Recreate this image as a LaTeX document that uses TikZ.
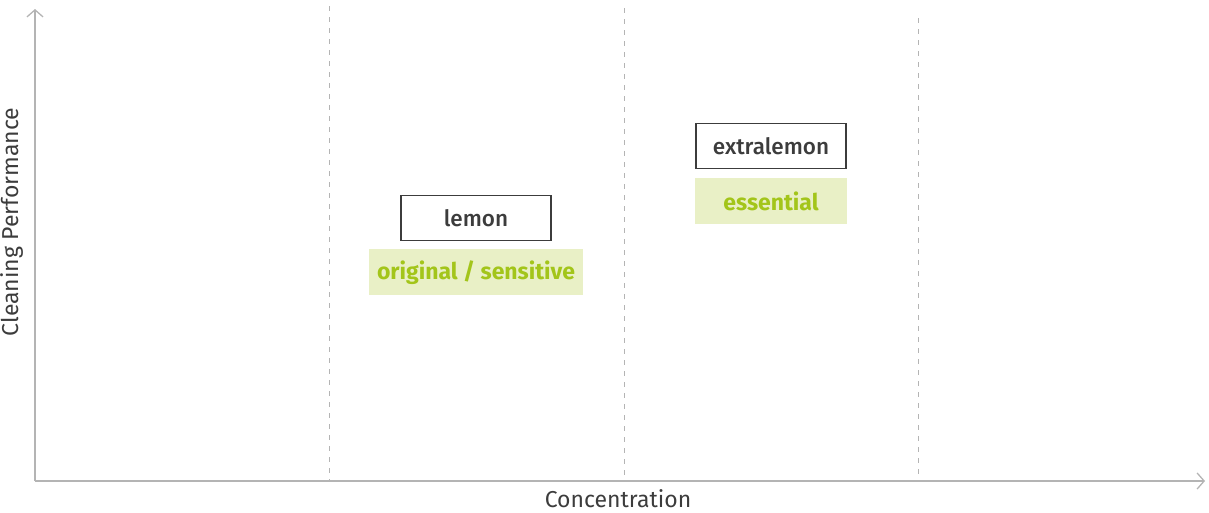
\documentclass[tikz,border=0pt]{standalone}
\usepackage{fontspec}
\setmainfont{Fira Sans}
\newfontface\mediumface{Fira Sans Medium}
\usetikzlibrary{positioning,arrows.meta}
\definecolor{axisgray}{HTML}{B4B4B4}
\definecolor{textgray}{HTML}{3C3C3C}
\definecolor{limegreen}{HTML}{A3C51A}
\definecolor{limefill}{HTML}{E9F0C6}
\begin{document}
\begin{tikzpicture}[x=1pt,y=-1pt,
		>={Straight Barb[length=7pt,width=16pt]},
		axis/.style={axisgray,line width=1.3pt,->},
		gridline/.style={axisgray,line width=1pt,dash pattern=on 5pt off 6pt},
		axislabel/.style={textgray,inner sep=0pt,font=\fontsize{23}{26}\selectfont},
		namebox/.style={draw=textgray,line width=1.2pt,minimum width=150pt,minimum height=45pt,
			inner sep=0pt,text=textgray,font=\fontsize{22.5}{26}\mediumface},
		rangebox/.style={fill=limefill,minimum width=152pt,minimum height=46pt,inner xsep=8pt,
			text=limegreen,font=\fontsize{23}{26}\selectfont\bfseries}]
		
		\useasboundingbox (0,0) rectangle (1209,512);
		
		% concentration ranges
		\draw[gridline] (329,6) -- (329,481);
		\draw[gridline] (624,8) -- (624,481);
		\draw[gridline] (918,18) -- (918,481);
		
		\draw[axis] (35,481) -- (35,9);
		\draw[axis] (35,481) -- (1205,481);
		
		\node[axislabel] (xlabel) at (618,499) {Concentration};
		\node[axislabel,rotate=90] (ylabel) at (12,222) {Cleaning Performance};
		
		\node[namebox] (lemon) at (476,218) {lemon};
		\node[rangebox,below=8pt of lemon] (original) {original / sensitive};
		
		\node[namebox] (extralemon) at (771,146) {extralemon};
		\node[rangebox,below=9pt of extralemon] (essential) {essential};
		\end{tikzpicture}
\end{document}
